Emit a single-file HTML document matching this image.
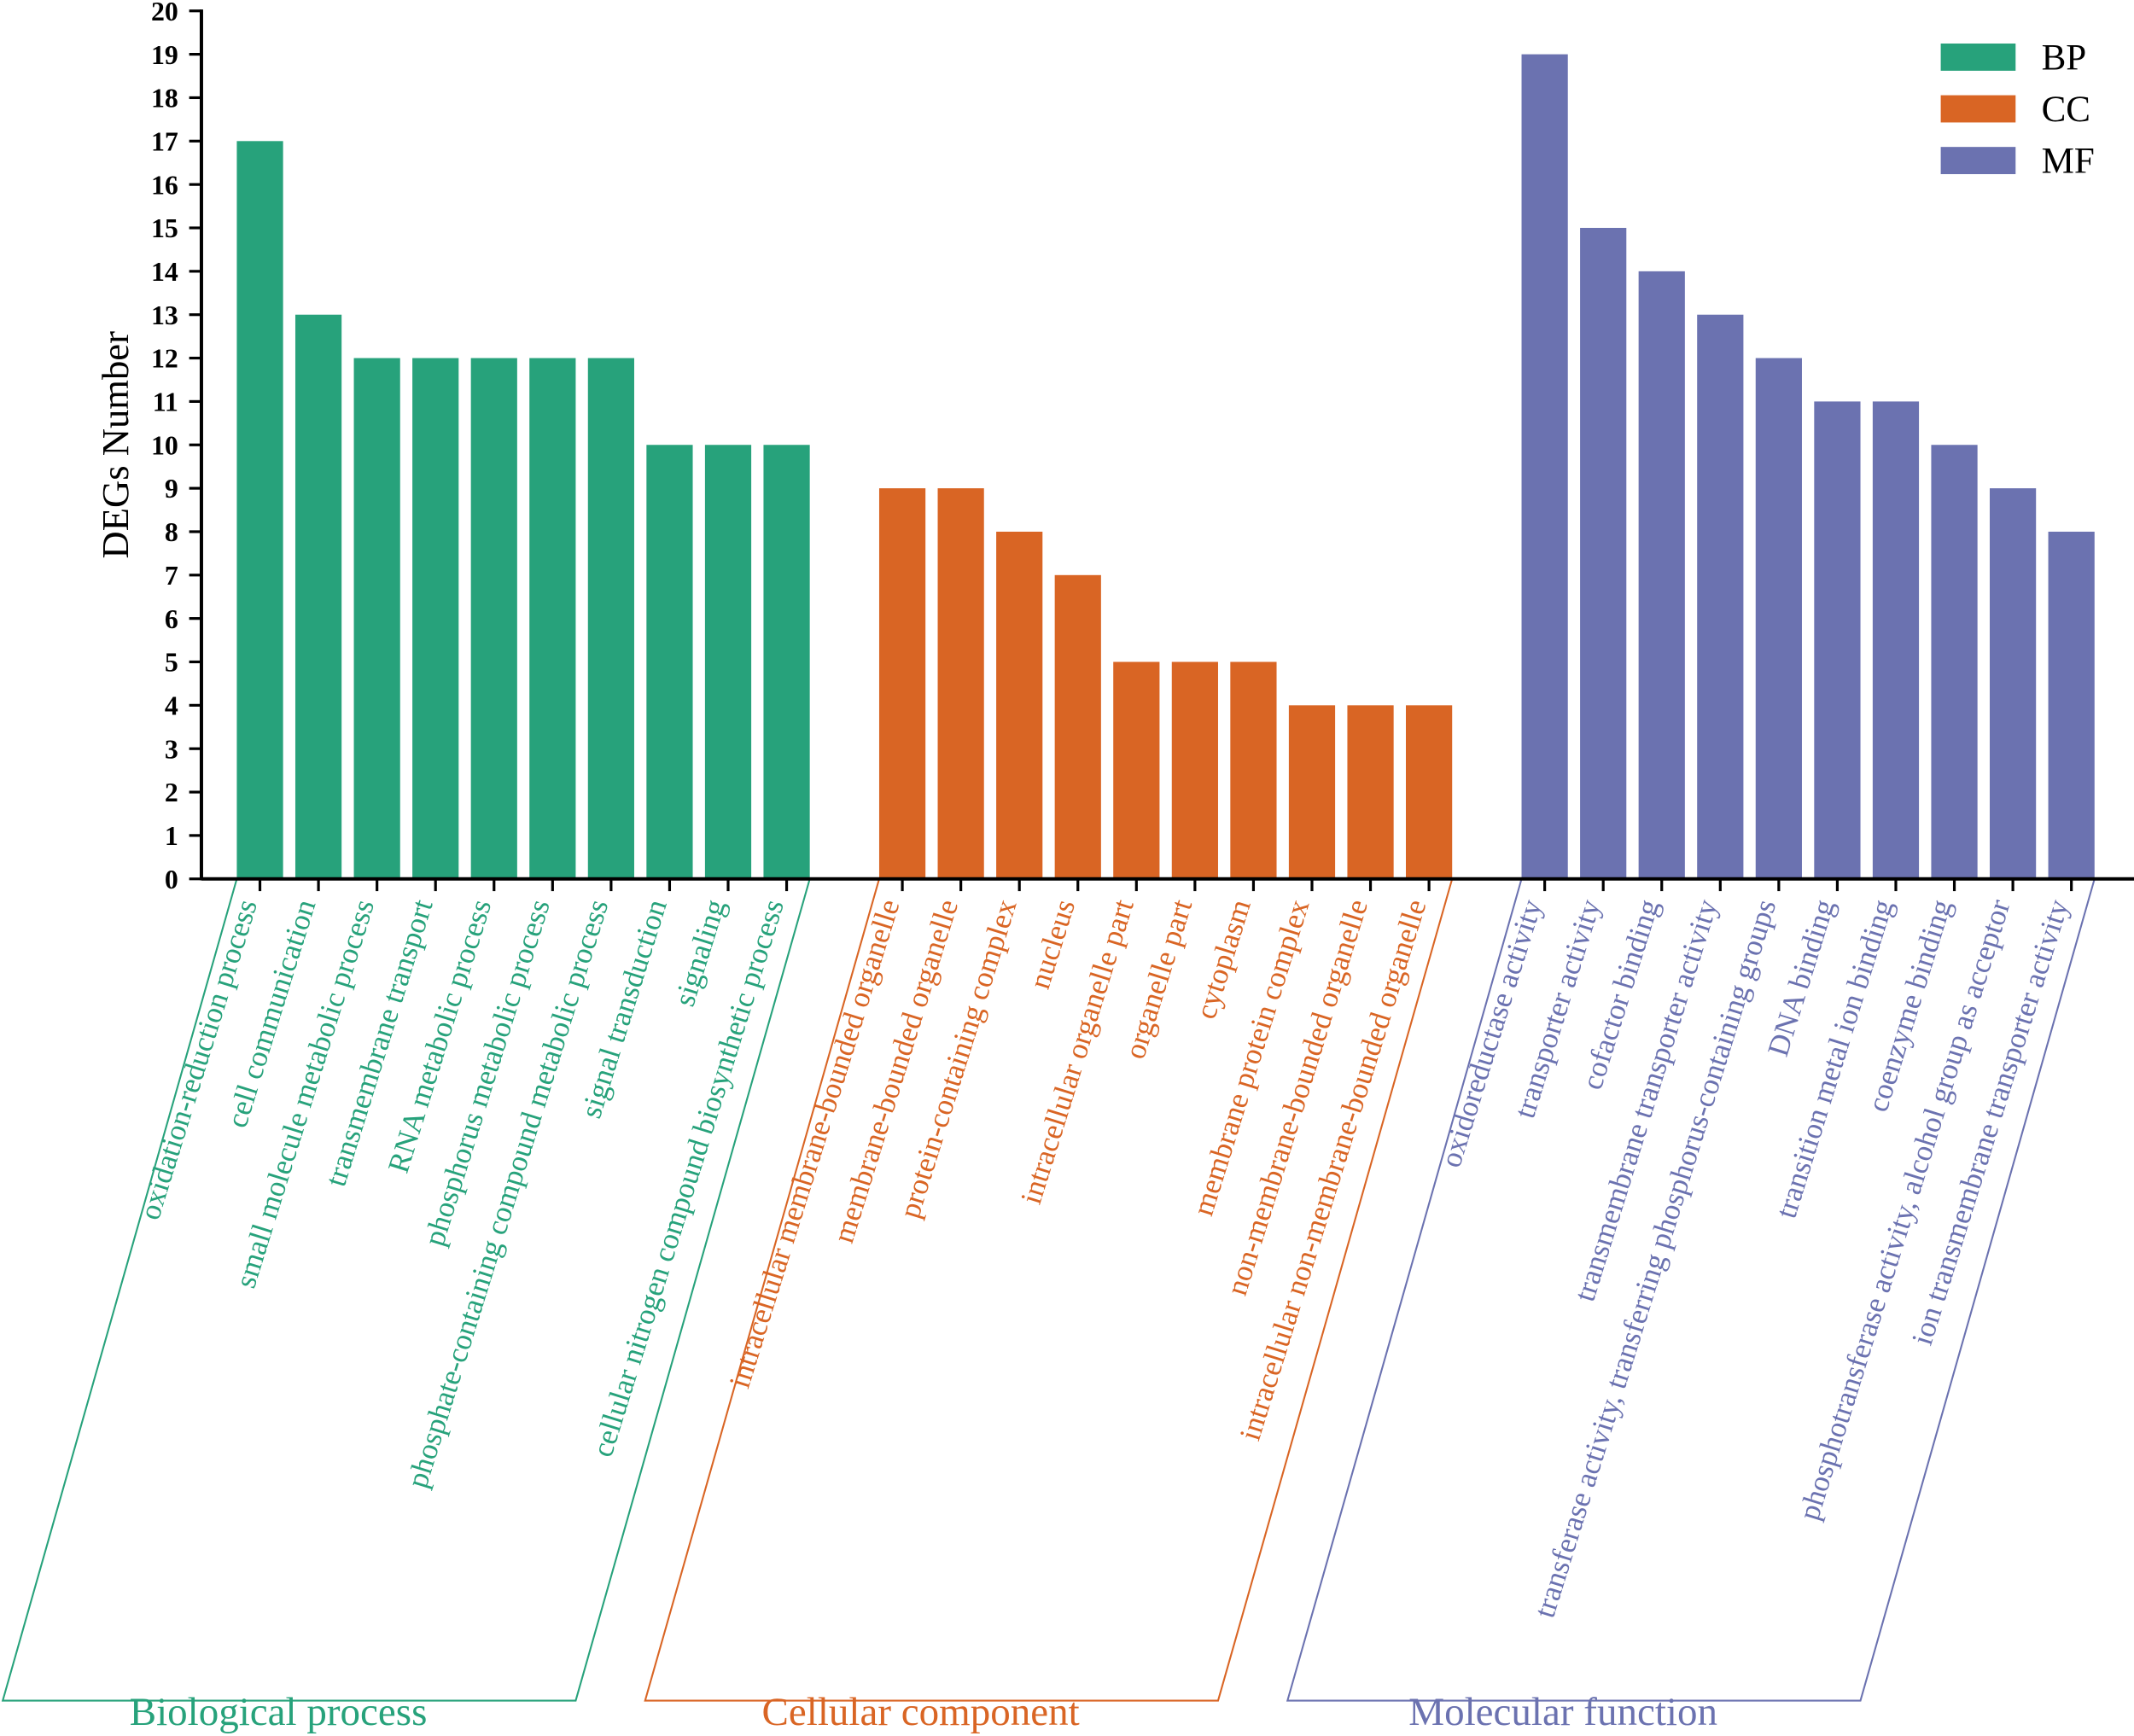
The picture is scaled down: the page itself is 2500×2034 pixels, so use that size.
<!DOCTYPE html>
<html><head><meta charset="utf-8"><style>
html,body{margin:0;padding:0;background:#fff;}
svg{display:block;font-family:"Liberation Serif",serif;}
</style></head><body>
<svg id="chart" width="2500" height="2034" viewBox="0 0 1568 1276" preserveAspectRatio="none" xmlns="http://www.w3.org/2000/svg"></svg>
<script>
const bpLabels=["oxidation-reduction process","cell communication","small molecule metabolic process","transmembrane transport","RNA metabolic process","phosphorus metabolic process","phosphate-containing compound metabolic process","signal transduction","signaling","cellular nitrogen compound biosynthetic process"];
const bpValues=[17,13,12,12,12,12,12,10,10,10];
const ccLabels=["intracellular membrane-bounded organelle","membrane-bounded organelle","protein-containing complex","nucleus","intracellular organelle part","organelle part","cytoplasm","membrane protein complex","non-membrane-bounded organelle","intracellular non-membrane-bounded organelle"];
const ccValues=[9,9,8,7,5,5,5,4,4,4];
const mfLabels=["oxidoreductase activity","transporter activity","cofactor binding","transmembrane transporter activity","transferase activity, transferring phosphorus-containing groups","DNA binding","transition metal ion binding","coenzyme binding","phosphotransferase activity, alcohol group as acceptor","ion transmembrane transporter activity"];
const mfValues=[19,15,14,13,12,11,11,10,9,8];
const yTicks=[0,1,2,3,4,5,6,7,8,9,10,11,12,13,14,15,16,17,18,19,20];
const groupNames=["Biological process","Cellular component","Molecular function"];
const legendNames=["BP","CC","MF"];

const NS="http://www.w3.org/2000/svg";
const svg=document.getElementById('chart');
function mk(tag,attrs,parent){const e=document.createElementNS(NS,tag);for(const k in attrs)e.setAttribute(k,attrs[k]);(parent||svg).appendChild(e);return e;}
const y0=646,yTop=8;
function y(v){return y0-(y0-yTop)*v/20;}
const groups=[
 {labels:bpLabels,values:bpValues,start:174,color:"#27a27b"},
 {labels:ccLabels,values:ccValues,start:646,color:"#d96524"},
 {labels:mfLabels,values:mfValues,start:1118,color:"#6b72b0"}];
const pitch=43,bw=34;
function x(g,i){return groups[g].start+i*pitch;}

groups.forEach((G,g)=>{
  G.values.forEach((v,i)=>{
    const r=mk('rect',{x:x(g,i),y:y(v),width:bw,height:y0-y(v),fill:G.color});
    
    
    const cx=x(g,i)+bw/2;
    const t=mk('line',{x1:cx,y1:y0,x2:cx,y2:y0+9,stroke:'#000','stroke-width':2});
    
    
    const lb=mk('text',{x:0,y:0,transform:`translate(${cx-2},664) rotate(-72.7)`,'text-anchor':'end','font-size':22,fill:G.color});
    lb.textContent=G.labels[i];
    
    
  });
  const L=G.start, R=x(g,G.values.length-1)+bw, dx=172, by=1250;
  const p=mk('polyline',{points:`${L},${y0} ${L-dx},${by} ${R-dx},${by} ${R},${y0}`,fill:'none',stroke:G.color,'stroke-width':1.3});
  
  
  const gt=mk('text',{x:(L+R)/2-dx-8,y:1268,'text-anchor':'middle','font-size':29.5,fill:G.color});
  gt.textContent=groupNames[g];
  
  
  const lr=mk('rect',{x:1426,y:32+g*38,width:55,height:20,fill:G.color});
  
  
  const lt=mk('text',{x:1500,y:51+g*38,'font-size':27,fill:'#000'});
  lt.textContent=legendNames[g];
  
  
});

const ax=mk('line',{x1:148,y1:y0,x2:1568,y2:y0,stroke:'#000','stroke-width':2.5});


const ay=mk('line',{x1:148,y1:yTop-1,x2:148,y2:y0+1,stroke:'#000','stroke-width':2.5});


yTicks.forEach(v=>{
  const tl=mk('line',{x1:139,y1:y(v),x2:148,y2:y(v),stroke:'#000','stroke-width':2});
  
  
  const tt=mk('text',{x:131,y:y(v)+7,'text-anchor':'end','font-size':20,'font-weight':'bold',fill:'#000'});
  tt.textContent=v;
  
  
});
const yt=mk('text',{x:0,y:0,transform:'translate(94,327) rotate(-90)','text-anchor':'middle','font-size':28,fill:'#000'});
yt.textContent='DEGs Number';


</script>
</body></html>
